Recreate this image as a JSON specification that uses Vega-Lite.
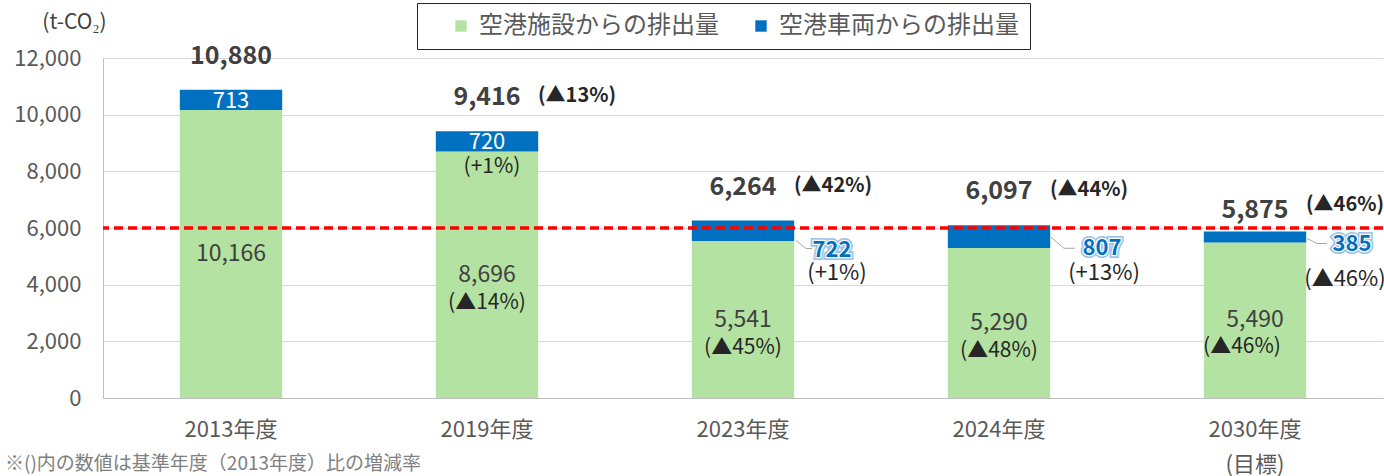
{
  "$schema": "https://vega.github.io/schema/vega-lite/v6.json",
  "width": 1280,
  "height": 340,
  "autosize": "none",
  "padding": {"left": 103, "top": 58, "right": 1, "bottom": 78},
  "background": "white",
  "config": {"font": "Noto Sans CJK JP", "view": {"stroke": null}},
  "title": {"text": "※()内の数値は基準年度（2013年度）比の増減率", "orient": "bottom", "anchor": "start", "frame": "group", "dx": -98, "offset": -20, "fontSize": 19, "fontWeight": "normal", "color": "#808080"},
  "data": {"values": [
    {"year": "2013年度", "facility": 10166, "vehicle": 713, "total": 10880, "totalPct": "", "facilityPct": "", "vehiclePct": ""},
    {"year": "2019年度", "facility": 8696, "vehicle": 720, "total": 9416, "totalPct": "(▲13%)", "facilityPct": "(▲14%)", "vehiclePct": "(+1%)"},
    {"year": "2023年度", "facility": 5541, "vehicle": 722, "total": 6264, "totalPct": "(▲42%)", "facilityPct": "(▲45%)", "vehiclePct": "(+1%)"},
    {"year": "2024年度", "facility": 5290, "vehicle": 807, "total": 6097, "totalPct": "(▲44%)", "facilityPct": "(▲48%)", "vehiclePct": "(+13%)"},
    {"year": "2030年度", "facility": 5490, "vehicle": 385, "total": 5875, "totalPct": "(▲46%)", "facilityPct": "(▲46%)", "vehiclePct": "(▲46%)"}
  ]},
  "resolve": {"scale": {"y": "independent"}},
  "layer": [
    {
      "mark": {"type": "bar"},
      "encoding": {
        "x": {"field": "year", "type": "nominal", "sort": null,
          "scale": {"paddingInner": 0.6, "paddingOuter": 0.3},
          "axis": {"title": null, "labelFontSize": 22, "labelColor": "#595959", "labelPadding": 31, "ticks": false, "domainColor": "#bfbfbf", "labelAngle": 0, "labelLineHeight": 35, "labelBaseline": "middle",
            "labelExpr": "datum.value == '2030年度' ? ['2030年度', '(目標)'] : datum.value"}},
        "y": {"field": "facility", "type": "quantitative", "scale": {"domain": [0, 12000], "nice": false},
          "axis": {"values": [0, 2000, 4000, 6000, 8000, 10000, 12000], "format": ",d", "labelFontSize": 22, "labelColor": "#595959", "labelPadding": 22, "ticks": false, "domain": true, "domainColor": "#bfbfbf", "gridColor": "#d9d9d9",
            "title": "(t-CO₂)", "titleAngle": 0, "titleX": -29, "titleY": -36, "titleAlign": "center", "titleBaseline": "middle", "titleFontSize": 21, "titleFontWeight": "normal", "titleColor": "#404040"}},
        "color": {"datum": "空港施設からの排出量", "type": "nominal",
          "scale": {"domain": ["空港施設からの排出量", "空港車両からの排出量"], "range": ["#B3E2A2", "#0070C0"]},
          "legend": {"title": null, "orient": "none", "legendX": 314, "legendY": -55, "direction": "horizontal", "symbolType": "square", "symbolSize": 130, "symbolOffset": 21, "labelFontSize": 24, "labelColor": "#595959", "labelOffset": 6, "labelLimit": 400, "padding": 11, "columnPadding": 9, "strokeColor": "#262626", "fillColor": "white",
            "labelExpr": "datum.label == '空港車両からの排出量' ? datum.label + '\u3000' : datum.label"}}
      }
    },
    {
      "mark": {"type": "bar"},
      "encoding": {
        "x": {"field": "year", "type": "nominal", "sort": null},
        "y": {"field": "facility", "type": "quantitative", "scale": {"domain": [0, 12000], "nice": false}, "axis": null},
        "y2": {"field": "total"},
        "color": {"datum": "空港車両からの排出量", "type": "nominal"}
      }
    },
    {
      "mark": {"type": "rule", "color": "#ff0000", "strokeWidth": 2.5, "strokeDash": [9, 5]},
      "encoding": {"y": {"datum": 6000, "type": "quantitative", "scale": {"domain": [0, 12000], "nice": false}, "axis": null}}
    },
    {
      "transform": [{"filter": "datum.year != '2030年度'"}],
      "layer": [
        {"mark": {"type": "text", "dy": -34, "fontSize": 25, "fontWeight": "bold", "color": "#404040", "baseline": "middle"},
          "encoding": {"x": {"field": "year", "type": "nominal", "sort": null}, "y": {"field": "total", "type": "quantitative", "scale": {"domain": [0, 12000], "nice": false}, "axis": null}, "text": {"field": "total", "type": "quantitative", "format": ",d"}}},
        {"mark": {"type": "text", "dx": 90, "dy": -35, "fontSize": 20, "fontWeight": "bold", "color": "#262626", "baseline": "middle"},
          "encoding": {"x": {"field": "year", "type": "nominal", "sort": null}, "y": {"field": "total", "type": "quantitative"}, "text": {"field": "totalPct", "type": "nominal"}}}
      ]
    },
    {
      "transform": [{"filter": "datum.year == '2030年度'"}],
      "layer": [
        {"mark": {"type": "text", "dy": -22, "fontSize": 25, "fontWeight": "bold", "color": "#404040", "baseline": "middle"},
          "encoding": {"x": {"field": "year", "type": "nominal", "sort": null}, "y": {"field": "total", "type": "quantitative", "scale": {"domain": [0, 12000], "nice": false}, "axis": null}, "text": {"field": "total", "type": "quantitative", "format": ",d"}}},
        {"mark": {"type": "text", "dx": 90, "dy": -27, "fontSize": 20, "fontWeight": "bold", "color": "#262626", "baseline": "middle"},
          "encoding": {"x": {"field": "year", "type": "nominal", "sort": null}, "y": {"field": "total", "type": "quantitative"}, "text": {"field": "totalPct", "type": "nominal"}}}
      ]
    },
    {
      "transform": [{"filter": "datum.year == '2013年度' || datum.year == '2019年度'"}],
      "layer": [
        {"mark": {"type": "text", "dy": 11, "fontSize": 22, "color": "white", "baseline": "middle"},
          "encoding": {"x": {"field": "year", "type": "nominal", "sort": null}, "y": {"field": "total", "type": "quantitative", "scale": {"domain": [0, 12000], "nice": false}, "axis": null}, "text": {"field": "vehicle", "type": "quantitative", "format": ",d"}}},
        {"mark": {"type": "text", "dx": 5, "dy": 36, "fontSize": 21, "color": "#262626", "baseline": "middle"},
          "encoding": {"x": {"field": "year", "type": "nominal", "sort": null}, "y": {"field": "total", "type": "quantitative"}, "text": {"field": "vehiclePct", "type": "nominal"}}}
      ]
    },
    {
      "layer": [
        {"mark": {"type": "text", "fontSize": 23, "color": "#404040", "baseline": "middle"},
          "encoding": {"x": {"field": "year", "type": "nominal", "sort": null}, "y": {"field": "facility", "type": "quantitative", "scale": {"domain": [0, 24000], "nice": false}, "axis": null}, "text": {"field": "facility", "type": "quantitative", "format": ",d"}}},
        {"transform": [{"filter": "datum.year != '2030年度'"}],
          "mark": {"type": "text", "dy": 28, "fontSize": 21, "color": "#262626", "baseline": "middle"},
          "encoding": {"x": {"field": "year", "type": "nominal", "sort": null}, "y": {"field": "facility", "type": "quantitative"}, "text": {"field": "facilityPct", "type": "nominal"}}},
        {"transform": [{"filter": "datum.year == '2030年度'"}],
          "mark": {"type": "text", "dx": -13, "dy": 27, "fontSize": 21, "color": "#262626", "baseline": "middle"},
          "encoding": {"x": {"field": "year", "type": "nominal", "sort": null}, "y": {"field": "facility", "type": "quantitative"}, "text": {"field": "facilityPct", "type": "nominal"}}}
      ]
    },
    {
      "transform": [{"filter": "datum.year == '2023年度'"}],
      "layer": [
        {"mark": {"type": "rule", "color": "#a6a6a6", "strokeWidth": 1, "xOffset": 53, "x2Offset": 63, "yOffset": 20, "y2Offset": 28},
          "encoding": {"x": {"field": "year", "type": "nominal", "sort": null}, "x2": {"field": "year"}, "y": {"field": "total", "type": "quantitative", "scale": {"domain": [0, 12000], "nice": false}, "axis": null}, "y2": {"field": "total"}}},
        {"mark": {"type": "rule", "color": "#a6a6a6", "strokeWidth": 1, "xOffset": 63, "x2Offset": 69, "yOffset": 28, "y2Offset": 28},
          "encoding": {"x": {"field": "year", "type": "nominal", "sort": null}, "x2": {"field": "year"}, "y": {"field": "total", "type": "quantitative"}, "y2": {"field": "total"}}},
        {"mark": {"type": "text", "dx": 89, "dy": 29, "fontSize": 22, "fontWeight": "bold", "color": "#9dc3e6", "stroke": "#9dc3e6", "strokeWidth": 6, "baseline": "middle"},
          "encoding": {"x": {"field": "year", "type": "nominal", "sort": null}, "y": {"field": "total", "type": "quantitative"}, "text": {"field": "vehicle", "type": "quantitative", "format": ",d"}}},
        {"mark": {"type": "text", "dx": 89, "dy": 29, "fontSize": 22, "fontWeight": "bold", "color": "white", "stroke": "white", "strokeWidth": 2.5, "baseline": "middle"},
          "encoding": {"x": {"field": "year", "type": "nominal", "sort": null}, "y": {"field": "total", "type": "quantitative"}, "text": {"field": "vehicle", "type": "quantitative", "format": ",d"}}},
        {"mark": {"type": "text", "dx": 89, "dy": 29, "fontSize": 22, "fontWeight": "bold", "color": "#0070C0", "baseline": "middle"},
          "encoding": {"x": {"field": "year", "type": "nominal", "sort": null}, "y": {"field": "total", "type": "quantitative"}, "text": {"field": "vehicle", "type": "quantitative", "format": ",d"}}},
        {"mark": {"type": "text", "dx": 94, "dy": 52, "fontSize": 22, "color": "#262626", "baseline": "middle"},
          "encoding": {"x": {"field": "year", "type": "nominal", "sort": null}, "y": {"field": "total", "type": "quantitative"}, "text": {"field": "vehiclePct", "type": "nominal"}}}
      ]
    },
    {
      "transform": [{"filter": "datum.year == '2024年度'"}],
      "layer": [
        {"mark": {"type": "rule", "color": "#a6a6a6", "strokeWidth": 1, "xOffset": 52, "x2Offset": 65, "yOffset": 12, "y2Offset": 23},
          "encoding": {"x": {"field": "year", "type": "nominal", "sort": null}, "x2": {"field": "year"}, "y": {"field": "total", "type": "quantitative", "scale": {"domain": [0, 12000], "nice": false}, "axis": null}, "y2": {"field": "total"}}},
        {"mark": {"type": "rule", "color": "#a6a6a6", "strokeWidth": 1, "xOffset": 65, "x2Offset": 76, "yOffset": 23, "y2Offset": 23},
          "encoding": {"x": {"field": "year", "type": "nominal", "sort": null}, "x2": {"field": "year"}, "y": {"field": "total", "type": "quantitative"}, "y2": {"field": "total"}}},
        {"mark": {"type": "text", "dx": 103, "dy": 23, "fontSize": 22, "fontWeight": "bold", "color": "#9dc3e6", "stroke": "#9dc3e6", "strokeWidth": 6, "baseline": "middle"},
          "encoding": {"x": {"field": "year", "type": "nominal", "sort": null}, "y": {"field": "total", "type": "quantitative"}, "text": {"field": "vehicle", "type": "quantitative", "format": ",d"}}},
        {"mark": {"type": "text", "dx": 103, "dy": 23, "fontSize": 22, "fontWeight": "bold", "color": "white", "stroke": "white", "strokeWidth": 2.5, "baseline": "middle"},
          "encoding": {"x": {"field": "year", "type": "nominal", "sort": null}, "y": {"field": "total", "type": "quantitative"}, "text": {"field": "vehicle", "type": "quantitative", "format": ",d"}}},
        {"mark": {"type": "text", "dx": 103, "dy": 23, "fontSize": 22, "fontWeight": "bold", "color": "#0070C0", "baseline": "middle"},
          "encoding": {"x": {"field": "year", "type": "nominal", "sort": null}, "y": {"field": "total", "type": "quantitative"}, "text": {"field": "vehicle", "type": "quantitative", "format": ",d"}}},
        {"mark": {"type": "text", "dx": 105, "dy": 48, "fontSize": 22, "color": "#262626", "baseline": "middle"},
          "encoding": {"x": {"field": "year", "type": "nominal", "sort": null}, "y": {"field": "total", "type": "quantitative"}, "text": {"field": "vehiclePct", "type": "nominal"}}}
      ]
    },
    {
      "transform": [{"filter": "datum.year == '2030年度'"}],
      "layer": [
        {"mark": {"type": "rule", "color": "#a6a6a6", "strokeWidth": 1, "xOffset": 52, "x2Offset": 62, "yOffset": 7, "y2Offset": 12},
          "encoding": {"x": {"field": "year", "type": "nominal", "sort": null}, "x2": {"field": "year"}, "y": {"field": "total", "type": "quantitative", "scale": {"domain": [0, 12000], "nice": false}, "axis": null}, "y2": {"field": "total"}}},
        {"mark": {"type": "rule", "color": "#a6a6a6", "strokeWidth": 1, "xOffset": 62, "x2Offset": 72, "yOffset": 12, "y2Offset": 12},
          "encoding": {"x": {"field": "year", "type": "nominal", "sort": null}, "x2": {"field": "year"}, "y": {"field": "total", "type": "quantitative"}, "y2": {"field": "total"}}},
        {"mark": {"type": "text", "dx": 97, "dy": 12, "fontSize": 22, "fontWeight": "bold", "color": "#9dc3e6", "stroke": "#9dc3e6", "strokeWidth": 6, "baseline": "middle"},
          "encoding": {"x": {"field": "year", "type": "nominal", "sort": null}, "y": {"field": "total", "type": "quantitative"}, "text": {"field": "vehicle", "type": "quantitative", "format": ",d"}}},
        {"mark": {"type": "text", "dx": 97, "dy": 12, "fontSize": 22, "fontWeight": "bold", "color": "white", "stroke": "white", "strokeWidth": 2.5, "baseline": "middle"},
          "encoding": {"x": {"field": "year", "type": "nominal", "sort": null}, "y": {"field": "total", "type": "quantitative"}, "text": {"field": "vehicle", "type": "quantitative", "format": ",d"}}},
        {"mark": {"type": "text", "dx": 97, "dy": 12, "fontSize": 22, "fontWeight": "bold", "color": "#0070C0", "baseline": "middle"},
          "encoding": {"x": {"field": "year", "type": "nominal", "sort": null}, "y": {"field": "total", "type": "quantitative"}, "text": {"field": "vehicle", "type": "quantitative", "format": ",d"}}},
        {"mark": {"type": "text", "dx": 90, "dy": 47, "fontSize": 22, "color": "#262626", "baseline": "middle"},
          "encoding": {"x": {"field": "year", "type": "nominal", "sort": null}, "y": {"field": "total", "type": "quantitative"}, "text": {"field": "vehiclePct", "type": "nominal"}}}
      ]
    }
  ]
}
